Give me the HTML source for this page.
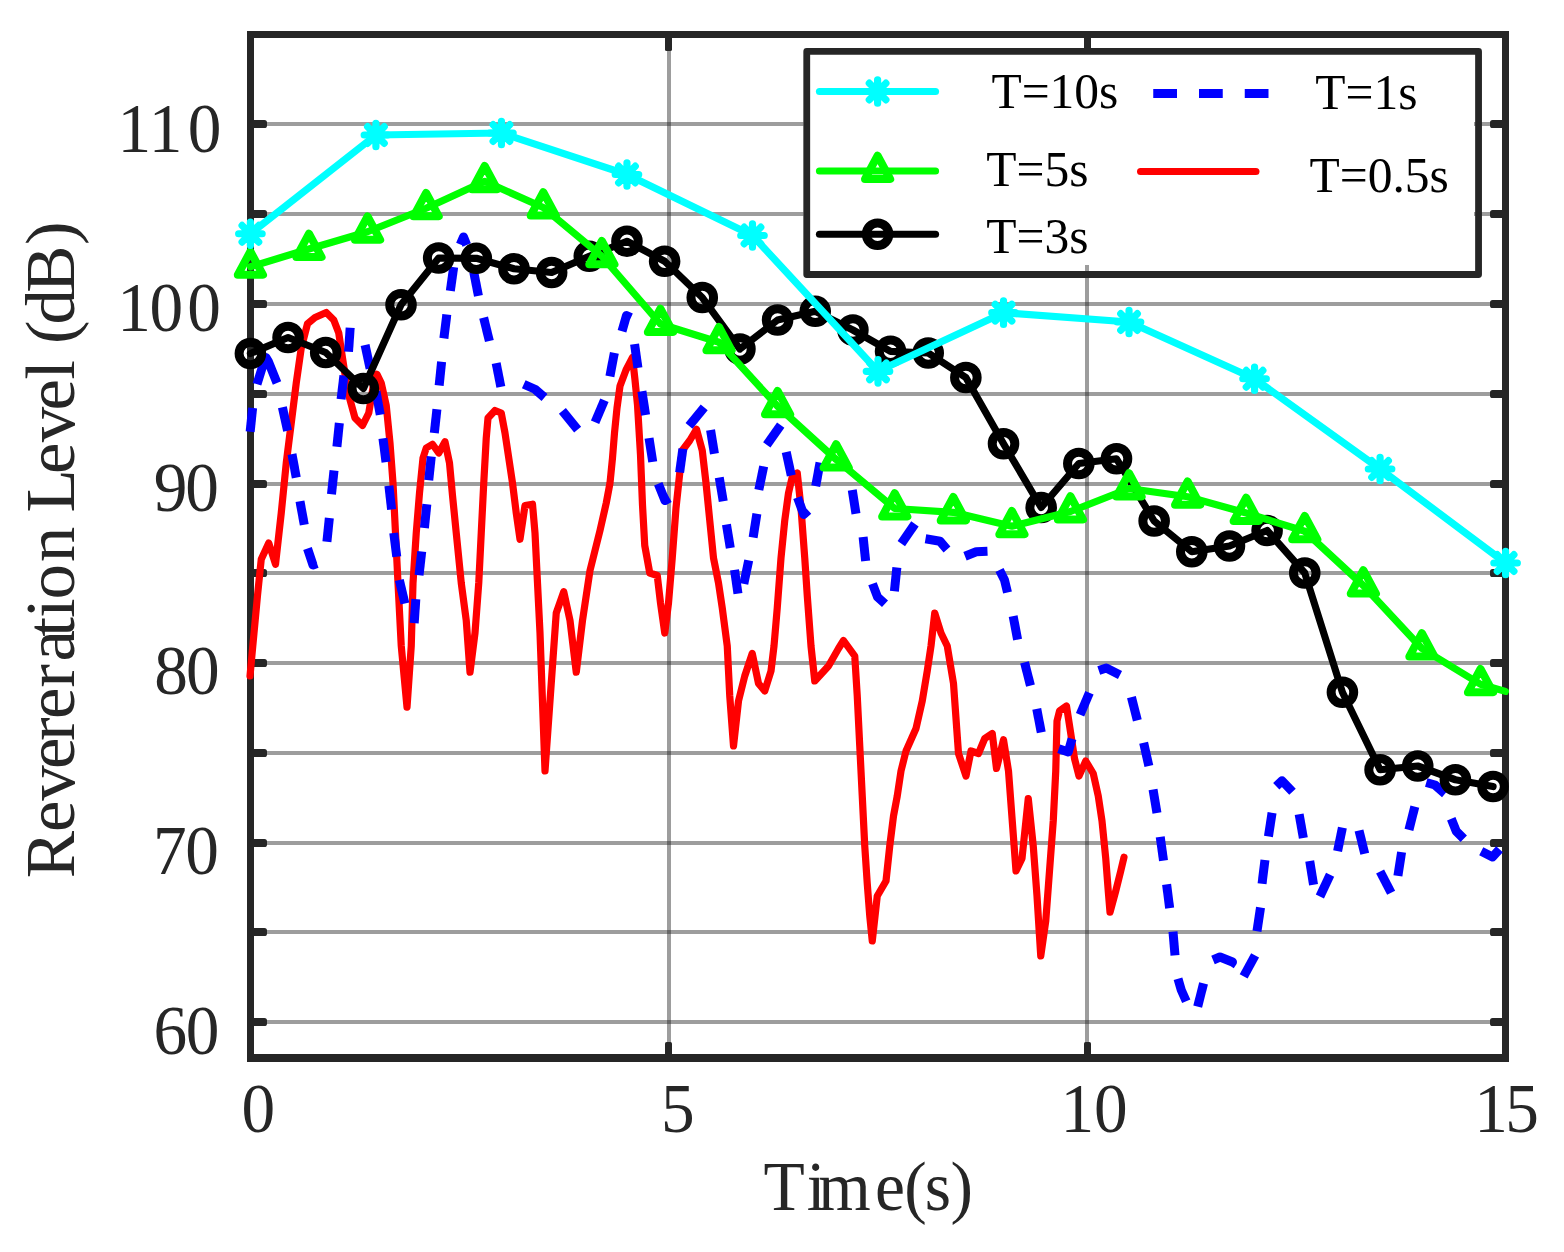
<!DOCTYPE html>
<html lang="en"><head><meta charset="utf-8"><title>Revereration Level vs Time</title>
<style>html,body{margin:0;padding:0;background:#fff}body{width:1564px;height:1252px;overflow:hidden}svg{display:block}text{font-family:"Liberation Serif",serif}.ax{fill:#262626}.lg{fill:#000}.ln{fill:none;stroke-width:7.2;stroke-linejoin:round;stroke-linecap:round}.mk{fill:none;stroke-width:7.2;stroke-linejoin:round;stroke-linecap:round}</style></head><body>
<svg width="1564" height="1252" viewBox="0 0 1564 1252">
<rect x="0" y="0" width="1564" height="1252" fill="#fff"/>
<g id="grid" fill="#262626" fill-opacity="0.45">
<rect x="254" y="1020" width="1248" height="4"/>
<rect x="254" y="930" width="1248" height="4"/>
<rect x="254" y="841" width="1248" height="4"/>
<rect x="254" y="751" width="1248" height="4"/>
<rect x="254" y="661" width="1248" height="4"/>
<rect x="254" y="571" width="1248" height="4"/>
<rect x="254" y="482" width="1248" height="4"/>
<rect x="254" y="392" width="1248" height="4"/>
<rect x="254" y="302" width="1248" height="4"/>
<rect x="254" y="212" width="1248" height="4"/>
<rect x="254" y="122" width="1248" height="4"/>
<rect x="667" y="38" width="4" height="1016"/>
<rect x="1085" y="38" width="4" height="1016"/>
</g>
<g id="axes" fill="#262626">
<rect x="247" y="31" width="1262" height="7"/>
<rect x="247" y="1054" width="1262" height="8"/>
<rect x="247" y="31" width="7" height="1031"/>
<rect x="1502" y="31" width="7" height="1031"/>
</g>
<g id="ticks" fill="#262626">
<rect x="250" y="1018" width="17" height="8" rx="2.6"/>
<rect x="1490" y="1018" width="17" height="8" rx="2.6"/>
<rect x="250" y="928" width="17" height="8" rx="2.6"/>
<rect x="1490" y="928" width="17" height="8" rx="2.6"/>
<rect x="250" y="839" width="17" height="8" rx="2.6"/>
<rect x="1490" y="839" width="17" height="8" rx="2.6"/>
<rect x="250" y="749" width="17" height="8" rx="2.6"/>
<rect x="1490" y="749" width="17" height="8" rx="2.6"/>
<rect x="250" y="659" width="17" height="8" rx="2.6"/>
<rect x="1490" y="659" width="17" height="8" rx="2.6"/>
<rect x="250" y="569" width="17" height="8" rx="2.6"/>
<rect x="1490" y="569" width="17" height="8" rx="2.6"/>
<rect x="250" y="480" width="17" height="8" rx="2.6"/>
<rect x="1490" y="480" width="17" height="8" rx="2.6"/>
<rect x="250" y="390" width="17" height="8" rx="2.6"/>
<rect x="1490" y="390" width="17" height="8" rx="2.6"/>
<rect x="250" y="300" width="17" height="8" rx="2.6"/>
<rect x="1490" y="300" width="17" height="8" rx="2.6"/>
<rect x="250" y="210" width="17" height="8" rx="2.6"/>
<rect x="1490" y="210" width="17" height="8" rx="2.6"/>
<rect x="250" y="120" width="17" height="8" rx="2.6"/>
<rect x="1490" y="120" width="17" height="8" rx="2.6"/>
<rect x="665" y="1042" width="7" height="16" rx="1.6"/>
<rect x="665" y="34" width="7" height="17" rx="1.6"/>
<rect x="1084" y="1042" width="7" height="16" rx="1.6"/>
<rect x="1084" y="34" width="7" height="17" rx="1.6"/>
</g>
<g id="curves">
<g><polyline class="ln" stroke="#ff0000" points="250,676 257.5,595.5 261.25,559.25 268.75,543 275.5,564.25 281.25,513 286.25,463 291.25,423 296.25,383 301.25,348 307.5,323.75 315,317.5 326.25,312.5 333.75,320 338.75,333 342.5,358 347.5,390.5 355,418 362.5,425.5 368.75,413 373.75,383 377,374.25 381.25,383 386.25,405.5 390,443 393,483 395.5,533 398,583 401.25,646 407,707.25 411.25,646 413,583 416.25,533 419.5,493 423,458 426.25,448 432.5,444.25 438.75,453 445,441.75 449.5,463 452.5,495.5 456.25,533 461.25,583 466.25,620.5 470,672.25 475,633 478.75,583 481.25,533 483.75,483 486.25,438 488,418 495,410.5 501.25,413 505,433 508.75,458 512.5,483 516.25,513 520,539.25 525,505.5 532.5,504.25 535,533 537.5,583 540,633 545,771 556.25,613 563.75,591.75 570,620.5 576.25,672.25 582.5,620.5 586.25,595.5 590,570.5 595,550.5 600,530.5 606.25,503 610,483 612.5,458 614.5,433 617,408 620,386 626,370 632.5,357.5 635,380 637.5,405 639,430 640.5,455 642.5,505 644.75,545.5 649.75,573 657.25,575.5 660.5,603 664.75,633 668.5,603 672.25,558 676,508 679.75,473 682.25,450.5 689.75,440.5 696.5,429.25 702.25,450.5 706,483 709.75,520.5 713.5,558 718.5,583 722.25,608 727.25,646 729.75,696 733.5,746 738.5,701 744.75,676 752.25,653.5 758.5,683.5 764.75,691 771,671 774,646 777.25,608 781,558 784.75,520.5 788.5,493 792.25,476.75 797.25,473 801,508 804.75,558 807.25,595.5 811,646 814.75,681 828.5,666 838.5,648.5 843.5,640.5 854.75,656 857.25,696 859.75,746 862.25,796 864.75,846 867.25,883.5 869.75,916 872.25,941 877.25,896 886,881 889.75,846 893.5,816 897.25,796 901,771 906,751 916,728.5 922.25,701 927.25,671 931,646 934.75,613 941,633 947.25,646 953.5,683.5 958.5,753.5 966,776 971,751 978.5,753.5 984.75,738.5 992.25,733.5 996.5,768.5 1003.5,739.75 1008.5,771 1012.25,821 1016,871 1022,858.5 1028.25,798.5 1033.25,846 1037,896 1040.75,956 1045.75,921 1049.5,871 1053.25,821 1055.75,771 1057,721 1059.5,711 1066.5,706 1070.75,733.5 1074.5,758.5 1079,776 1085.75,761 1093.25,773.5 1098.25,796 1102,821 1105.75,858.5 1108.25,891 1110,912.25 1115.75,891 1120.75,871 1124,857.25"/></g>
<g id="blue" fill="none" stroke="#0000ff" stroke-width="9" stroke-linejoin="round" stroke-linecap="butt">
<polyline points="252.6,407.94 250.15,431.81"/>
<polyline points="257,384.25 263.75,362.5 266,357.5 268.25,361.25 277,383"/>
<polyline points="282.4,407.28 287.6,430.72"/>
<polyline points="291.97,454.07 296.28,477.68"/>
<polyline points="299.97,501.2 304.28,524.8"/>
<polyline points="307.5,548.5 313,565 317,563.5"/>
<polyline points="329.35,517.94 326.9,541.81"/>
<polyline points="334.01,470.44 331.49,494.31"/>
<polyline points="339.35,422.94 336.9,446.81"/>
<polyline points="343.91,375.46 341.09,399.29"/>
<polyline points="350.18,327.78 348.52,351.72"/>
<polyline points="365.09,345.02 370.11,368.48"/>
<polyline points="375.99,391.19 380.26,414.81"/>
<polyline points="382.97,438.35 386.03,462.15"/>
<polyline points="388.9,485.7 391.6,509.55"/>
<polyline points="393.75,532.97 396.75,556.78"/>
<polyline points="399.34,580.08 404.91,603.42"/>
<polyline points="415.82,599.15 414.18,623.1"/>
<polyline points="421.71,551.45 419.04,575.3"/>
<polyline points="426.83,504.19 424.42,528.06"/>
<polyline points="431.26,456.44 428.74,480.31"/>
<polyline points="436.93,409.2 434.32,433.05"/>
<polyline points="441.6,361.69 439.15,385.56"/>
<polyline points="446.81,314.54 443.89,338.36"/>
<polyline points="453.66,267.17 450.34,290.93"/>
<polyline points="460.3,244.5 463.5,237 466.7,245"/>
<polyline points="473.76,272.23 478.44,295.77"/>
<polyline points="483.63,317.7 489.37,341"/>
<polyline points="496.17,363.23 500.83,386.77"/>
<polyline points="523.75,384.25 535,389.25 544.5,397.5"/>
<polyline points="562.39,410.97 577.61,429.53"/>
<polyline points="604.42,400.2 595.08,422.3"/>
<polyline points="614.35,352.83 609.9,376.42"/>
<polyline points="622,331.25 626.5,315.5 631,317.5"/>
<polyline points="634.57,344.12 637.93,367.88"/>
<polyline points="641.91,391.27 645.59,414.98"/>
<polyline points="649.03,438.14 652.72,461.86"/>
<polyline points="658.25,483.75 665,500.5 669.5,498"/>
<polyline points="682.88,448.74 679.62,472.51"/>
<polyline points="704.22,407.34 689.03,425.91"/>
<polyline points="710.56,430.03 714.44,453.72"/>
<polyline points="719.26,477.54 723.24,501.21"/>
<polyline points="726.45,524.41 730.3,548.09"/>
<polyline points="734.53,569.87 737.97,593.63"/>
<polyline points="748.71,560.38 743.79,583.87"/>
<polyline points="756.89,513.77 753.11,537.48"/>
<polyline points="763.68,466.37 758.82,489.88"/>
<polyline points="780.72,425.24 766.78,444.76"/>
<polyline points="786.21,452.02 791.29,475.48"/>
<polyline points="797.5,497.5 803.75,514.5 808.25,510.5"/>
<polyline points="820.05,462.57 815.7,486.18"/>
<polyline points="852.26,490.02 855.99,513.73"/>
<polyline points="863.11,537.07 865.64,560.93"/>
<polyline points="872.5,583.75 877.5,597 885,603.75"/>
<polyline points="896.85,567.44 894.4,591.31"/>
<polyline points="914.92,523.86 901.33,543.64"/>
<polyline points="925.5,538.75 940,541.25 947,549.5"/>
<polyline points="965,556.25 976.25,551.75 987.5,551.25"/>
<polyline points="999.5,570 1004.5,580 1007.5,592.5"/>
<polyline points="1013.15,616.08 1017.6,639.67"/>
<polyline points="1024.54,662.37 1030.46,685.63"/>
<polyline points="1036.74,708.84 1041.26,732.41"/>
<polyline points="1058.75,748.75 1068.25,752 1072,738.75"/>
<polyline points="1089.42,692.7 1080.08,714.8"/>
<polyline points="1098.75,670.5 1106.25,668 1120,675"/>
<polyline points="1131.43,697.12 1137.32,720.38"/>
<polyline points="1143.64,742.66 1148.86,766.09"/>
<polyline points="1153.04,789.41 1156.96,813.09"/>
<polyline points="1160.23,836.86 1163.52,860.64"/>
<polyline points="1166.6,884.35 1169.65,908.15"/>
<polyline points="1172.99,931.54 1175.01,955.46"/>
<polyline points="1178,978.75 1181.25,990 1186.25,1001.25"/>
<polyline points="1203.57,983.37 1197.68,1006.63"/>
<polyline points="1213,960 1220,957 1232.5,962 1230,965.75"/>
<polyline points="1255.09,955.33 1243.66,976.42"/>
<polyline points="1260.53,907.51 1256.97,931.24"/>
<polyline points="1264.95,859.96 1262.05,883.79"/>
<polyline points="1272.07,812.76 1268.43,836.49"/>
<polyline points="1276.25,786.25 1282,780.75 1292.5,791.75"/>
<polyline points="1299.15,814.31 1303.35,837.94"/>
<polyline points="1309.72,861.03 1313.53,884.72"/>
<polyline points="1330.11,874.77 1319.89,896.48"/>
<polyline points="1342.41,827.62 1337.59,851.13"/>
<polyline points="1359.02,830.47 1364.73,853.78"/>
<polyline points="1380.11,871.47 1391.14,892.78"/>
<polyline points="1401.59,852.14 1397.91,875.86"/>
<polyline points="1414.82,806.62 1408.93,829.88"/>
<polyline points="1426.25,782.5 1435,785 1445,793.75"/>
<polyline points="1451.25,818.75 1456.25,831.25 1463.75,838.75"/>
<polyline points="1481.25,851.25 1492.5,857 1499.5,849.25"/>
</g>
<g><polyline class="ln" stroke="#000" points="250.4,353.5 288.06,337.5 325.71,352.5 363.37,388.5 401.02,304.8 438.68,258 476.34,258.3 513.99,268.75 551.65,272.5 589.3,256.25 626.96,241.25 664.62,261.25 702.27,297.5 739.93,349 777.58,320 815.24,311.3 852.9,330 890.55,351.3 928.21,353 965.86,377.5 1003.52,443.75 1041.18,507.5 1078.83,463.5 1116.49,458.75 1154.14,521 1191.8,551.75 1229.46,546 1267.11,530.5 1304.77,573 1342.42,692.25 1380.08,769.75 1417.74,766 1455.39,779.75 1493.05,786.5"/></g>
<g fill="none" stroke="#000" stroke-width="9"><circle cx="250.4" cy="353.5" r="11.3"/><circle cx="288.06" cy="337.5" r="11.3"/><circle cx="325.71" cy="352.5" r="11.3"/><circle cx="363.37" cy="388.5" r="11.3"/><circle cx="401.02" cy="304.8" r="11.3"/><circle cx="438.68" cy="258" r="11.3"/><circle cx="476.34" cy="258.3" r="11.3"/><circle cx="513.99" cy="268.75" r="11.3"/><circle cx="551.65" cy="272.5" r="11.3"/><circle cx="589.3" cy="256.25" r="11.3"/><circle cx="626.96" cy="241.25" r="11.3"/><circle cx="664.62" cy="261.25" r="11.3"/><circle cx="702.27" cy="297.5" r="11.3"/><circle cx="739.93" cy="349" r="11.3"/><circle cx="777.58" cy="320" r="11.3"/><circle cx="815.24" cy="311.3" r="11.3"/><circle cx="852.9" cy="330" r="11.3"/><circle cx="890.55" cy="351.3" r="11.3"/><circle cx="928.21" cy="353" r="11.3"/><circle cx="965.86" cy="377.5" r="11.3"/><circle cx="1003.52" cy="443.75" r="11.3"/><circle cx="1041.18" cy="507.5" r="11.3"/><circle cx="1078.83" cy="463.5" r="11.3"/><circle cx="1116.49" cy="458.75" r="11.3"/><circle cx="1154.14" cy="521" r="11.3"/><circle cx="1191.8" cy="551.75" r="11.3"/><circle cx="1229.46" cy="546" r="11.3"/><circle cx="1267.11" cy="530.5" r="11.3"/><circle cx="1304.77" cy="573" r="11.3"/><circle cx="1342.42" cy="692.25" r="11.3"/><circle cx="1380.08" cy="769.75" r="11.3"/><circle cx="1417.74" cy="766" r="11.3"/><circle cx="1455.39" cy="779.75" r="11.3"/><circle cx="1493.05" cy="786.5" r="11.3"/></g>
<g><polyline class="ln" stroke="#00ff00" points="250.4,266.75 308.98,249 367.55,231.75 426.13,208.25 484.7,181.25 543.28,207.5 601.86,256.25 660.43,324 719.01,342.25 777.58,406.25 836.16,459.5 894.74,508.5 953.31,512.3 1011.89,526.25 1070.46,511.5 1129.04,488.5 1187.62,496.75 1246.19,513 1304.77,531.25 1363.34,585.5 1421.92,648.5 1480.5,684.25 1505.4,691.4"/></g>
<path fill="none" stroke="#00ff00" stroke-width="8" stroke-linejoin="round" d="M250.4,251.45L263,274.85L237.8,274.85Z M308.98,233.7L321.58,257.1L296.38,257.1Z M367.55,216.45L380.15,239.85L354.95,239.85Z M426.13,192.95L438.73,216.35L413.53,216.35Z M484.7,165.95L497.3,189.35L472.1,189.35Z M543.28,192.2L555.88,215.6L530.68,215.6Z M601.86,240.95L614.46,264.35L589.26,264.35Z M660.43,308.7L673.03,332.1L647.83,332.1Z M719.01,326.95L731.61,350.35L706.41,350.35Z M777.58,390.95L790.18,414.35L764.98,414.35Z M836.16,444.2L848.76,467.6L823.56,467.6Z M894.74,493.2L907.34,516.6L882.14,516.6Z M953.31,497L965.91,520.4L940.71,520.4Z M1011.89,510.95L1024.49,534.35L999.29,534.35Z M1070.46,496.2L1083.06,519.6L1057.86,519.6Z M1129.04,473.2L1141.64,496.6L1116.44,496.6Z M1187.62,481.45L1200.22,504.85L1175.02,504.85Z M1246.19,497.7L1258.79,521.1L1233.59,521.1Z M1304.77,515.95L1317.37,539.35L1292.17,539.35Z M1363.34,570.2L1375.94,593.6L1350.74,593.6Z M1421.92,633.2L1434.52,656.6L1409.32,656.6Z M1480.5,668.95L1493.1,692.35L1467.9,692.35Z"/>
<g><polyline class="ln" stroke="#00ffff" points="250.4,233.75 375.92,135 501.44,133 626.96,174.5 752.48,235.5 878,371.3 1003.52,312.7 1129.04,322 1254.56,378.75 1380.08,469 1505.6,563"/></g>
<path fill="none" stroke="#00ffff" stroke-width="7.2" stroke-linecap="round" stroke-linejoin="round" d="M250.4,222V245.5M238.65,233.75H262.15M242.09,225.44L258.71,242.06M242.09,242.06L258.71,225.44 M375.92,123.25V146.75M364.17,135H387.67M367.61,126.69L384.23,143.31M367.61,143.31L384.23,126.69 M501.44,121.25V144.75M489.69,133H513.19M493.13,124.69L509.75,141.31M493.13,141.31L509.75,124.69 M626.96,162.75V186.25M615.21,174.5H638.71M618.65,166.19L635.27,182.81M618.65,182.81L635.27,166.19 M752.48,223.75V247.25M740.73,235.5H764.23M744.17,227.19L760.79,243.81M744.17,243.81L760.79,227.19 M878,359.55V383.05M866.25,371.3H889.75M869.69,362.99L886.31,379.61M869.69,379.61L886.31,362.99 M1003.52,300.95V324.45M991.77,312.7H1015.27M995.21,304.39L1011.83,321.01M995.21,321.01L1011.83,304.39 M1129.04,310.25V333.75M1117.29,322H1140.79M1120.73,313.69L1137.35,330.31M1120.73,330.31L1137.35,313.69 M1254.56,367V390.5M1242.81,378.75H1266.31M1246.25,370.44L1262.87,387.06M1246.25,387.06L1262.87,370.44 M1380.08,457.25V480.75M1368.33,469H1391.83M1371.77,460.69L1388.39,477.31M1371.77,477.31L1388.39,460.69 M1505.6,551.25V574.75M1493.85,563H1517.35M1497.29,554.69L1513.91,571.31M1497.29,571.31L1513.91,554.69"/>
</g>
<g id="legend">
<rect x="803.5" y="48.75" width="670.5" height="216.25" fill="#fff"/>
<rect x="806.75" y="51.45" width="671.8" height="223.05" fill="none" stroke="#262626" stroke-width="6.8" stroke-linejoin="round"/>
<path class="ln" stroke="#00ffff" d="M819.5,91.5 H935.5"/><path fill="none" stroke="#00ffff" stroke-width="7.2" stroke-linecap="round" stroke-linejoin="round" d="M877.6,79.75V103.25M865.85,91.5H889.35M869.29,83.19L885.91,99.81M869.29,99.81L885.91,83.19"/>
<path class="ln" stroke="#00ff00" d="M819.5,171 H935.5"/><path fill="none" stroke="#00ff00" stroke-width="8" stroke-linejoin="round" d="M877.6,155.7L890.2,179.1L865,179.1Z"/>
<path class="ln" stroke="#000" d="M819.5,234.25 H935.5"/><g fill="none" stroke="#000" stroke-width="9"><circle cx="877.6" cy="234.25" r="11.3"/></g>
<path fill="none" stroke="#0000ff" stroke-width="8.8" stroke-dasharray="23.75 22" d="M1153.25,93.5 H1270"/>
<path class="ln" stroke="#ff0000" d="M1140.6,171.5 H1255.9"/>
<text class="lg" transform="translate(1118.4,107.9) scale(0.977,1)" font-size="50.7" text-anchor="end">T=10s</text>
<text class="lg" transform="translate(1088.6,186.2) scale(0.977,1)" font-size="50.7" text-anchor="end">T=5s</text>
<text class="lg" transform="translate(1088.6,253.2) scale(0.977,1)" font-size="50.7" text-anchor="end">T=3s</text>
<text class="lg" transform="translate(1315.3,109.1) scale(0.977,1)" font-size="50.7" text-anchor="start">T=1s</text>
<text class="lg" transform="translate(1309.5,191.6) scale(0.977,1)" font-size="50.7" text-anchor="start">T=0.5s</text>
</g>
<g id="xticklabels">
<text class="ax" transform="translate(0,1132.2) scale(0.955,1)" font-size="70.5" x="252.95" y="0">0</text>
<text class="ax" transform="translate(0,1132.2) scale(0.955,1)" font-size="70.5" x="692.18" y="0">5</text>
<text class="ax" transform="translate(0,1132.2) scale(0.955,1)" font-size="70.5" x="1110.45 1145.46" y="0">10</text>
<text class="ax" transform="translate(0,1132.2) scale(0.955,1)" font-size="70.5" x="1543.69 1576.16" y="0">15</text>
</g>
<g id="yticklabels">
<text class="ax" transform="translate(0,151.6) scale(0.955,1)" font-size="70.5" x="123.06 155.73 196.51" y="0">110</text>
<text class="ax" transform="translate(0,331.2) scale(0.955,1)" font-size="70.5" x="122.85 156.51 196.2" y="0">100</text>
<text class="ax" transform="translate(0,511.2) scale(0.955,1)" font-size="70.5" x="160.91 193.89" y="0">90</text>
<text class="ax" transform="translate(0,694.3) scale(0.955,1)" font-size="70.5" x="161.64 194.73" y="0">80</text>
<text class="ax" transform="translate(0,874.3) scale(0.955,1)" font-size="70.5" x="160.13 193.89" y="0">70</text>
<text class="ax" transform="translate(0,1054.3) scale(0.955,1)" font-size="70.5" x="160.66 194.63" y="0">60</text>
</g>
<text id="xlabel" class="ax" transform="translate(0,1210.25) scale(0.955,1)" font-size="70.7" x="799.52 844.87 856.72 916.31 946.76 968.27 995.35" y="0">Time(s)</text>
<text id="ylabel" class="ax" transform="translate(74.2,874.7) rotate(-90) scale(1.02,1)" font-size="69.6" x="-3.4 41.86 72.6 103.72 130.97 152.64 183.22 209.11 233.32 251.63 269.85 306.24 341.04 355.11 392.74 423.87 455.19 485.13 504.47 520.25 539.31 570.52 617.26" y="0">Revereration Level (dB)</text>
</svg></body></html>
